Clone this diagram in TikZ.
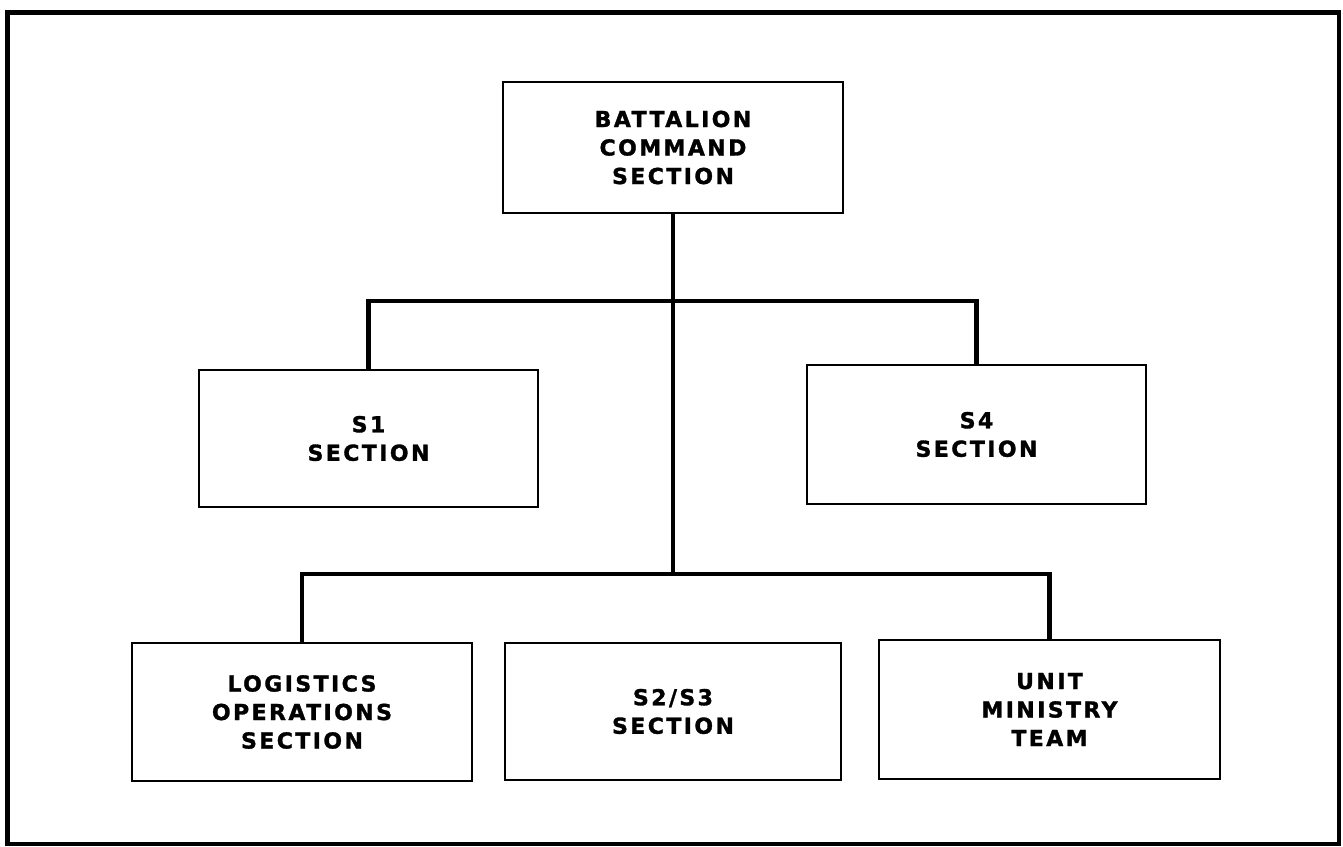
\documentclass[tikz,border=0pt]{standalone}
\usepackage{fontspec}
\newfontfamily\chartfont{DejaVu Sans}[LetterSpace=11, BoldFeatures={FakeBold=1.4}]
\begin{document}
\begin{tikzpicture}[x=1pt, y=-1pt,
  unitbox/.style={draw, line width=2.6pt, align=center, inner sep=0pt,
    font=\chartfont\bfseries\fontsize{22}{28.5}\selectfont},
  link/.style={line width=4.2pt, line cap=rect}]
  \useasboundingbox (0,0) rectangle (1343,846);
  % outer frame
  \draw[line width=4.2pt] (7.5,12.5) rectangle (1339,844);

  % command element
  \node[unitbox, minimum width=340pt, minimum height=131pt] (cmd) at (673,147.5)
    {BATTALION\\COMMAND\\SECTION};

  % staff sections
  \node[unitbox, minimum width=339pt, minimum height=137pt] (s1) at (368.5,438.5)
    {S1\\SECTION};
  \node[unitbox, minimum width=339pt, minimum height=139pt] (s4) at (976.5,434.5)
    {S4\\SECTION};

  % lower row
  \node[unitbox, minimum width=340pt, minimum height=138pt] (logops) at (302,712)
    {LOGISTICS\\OPERATIONS\\SECTION};
  \node[unitbox, minimum width=336pt, minimum height=137pt] (s23) at (673,711.5)
    {S2/S3\\SECTION};
  \node[unitbox, minimum width=341pt, minimum height=139pt] (umt) at (1049.5,709.5)
    {UNIT\\MINISTRY\\TEAM};

  % junction points on the trunk
  \coordinate (upperbus) at (673,301);
  \coordinate (lowerbus) at (673,574);

  % connectors
  \draw[link] (cmd.south) -- (lowerbus);
  \draw[link] (s1.north) |- (upperbus) -| (s4.north);
  \draw[link] (logops.north) |- (lowerbus) -| (umt.north);
\end{tikzpicture}
\end{document}
